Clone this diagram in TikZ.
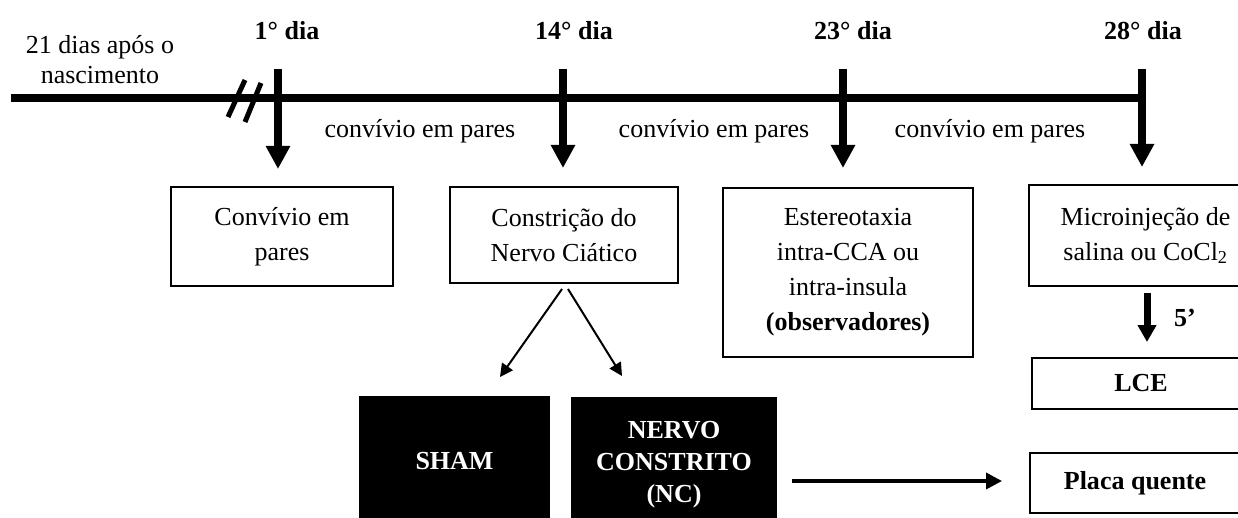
\documentclass[tikz,border=0pt]{standalone}
\usepackage{fontspec}
\setmainfont{Liberation Serif}
\usetikzlibrary{arrows.meta,calc}
\begin{document}
\begin{tikzpicture}[x=1pt,y=-1pt,
  box/.style={draw,line width=2pt,inner sep=0pt,align=center,font=\fontsize{26}{35}\selectfont},
  blk/.style={fill=black,draw=none,text=white,inner sep=0pt,align=center,font=\bfseries\fontsize{26}{32}\selectfont},
  lbl/.style={inner sep=0pt,anchor=base,font=\fontsize{26}{30}\selectfont},
  day/.style={inner sep=0pt,anchor=base,font=\bfseries\fontsize{26}{30}\selectfont},
  tl/.style={line width=8pt,-{Triangle[width=23pt,length=23pt]}},
  thin/.style={line width=2pt,-{Triangle[width=13pt,length=13pt]}},
  mid/.style={line width=3.5pt,-{Triangle[width=16pt,length=16pt]}},
  short/.style={line width=7pt,-{Triangle[width=18pt,length=17pt]}},
  brk/.style={line width=5pt}
]
\clip (0,0) rectangle (1238,518);
\fill[white] (0,0) rectangle (1238,518);

% boxes
\node[box,minimum width=222pt,minimum height=99pt] (conv) at (282,236.5) {Convívio em\\pares};
\node[box,minimum width=228pt,minimum height=96pt] (cons) at (564,235) {Constrição do\\Nervo Ciático};
\node[box,minimum width=250pt,minimum height=169pt] (este) at (848,272.5) {Estereotaxia\\intra-CCA ou\\intra-insula\\\textbf{(observadores)}};
\node[box,minimum width=233pt,minimum height=101pt] (micro) at (1145.5,235.5) {Microinjeção de\\salina ou CoCl\textsubscript{2}};
\node[box,minimum width=218pt,minimum height=51pt,font=\bfseries\fontsize{26}{35}\selectfont] (lce) at (1141,383.5) {LCE};
\node[box,minimum width=210pt,minimum height=60pt,font=\bfseries\fontsize{26}{35}\selectfont] (placa) at (1135,483) {Placa quente};
\node[blk,minimum width=191pt,minimum height=130pt] (sham) at (454.5,461) {SHAM};
\node[blk,minimum width=206pt,minimum height=136pt] (nc) at (674,465) {NERVO\\CONSTRITO\\(NC)};

% timeline
\coordinate (L) at (11,98);
\coordinate (R) at (1142,98);
\draw[line width=8pt] (L) -- (R);
\draw[brk] (228,117) -- (245,80);
\draw[brk] (245,122) -- (261,83);

\coordinate (t1) at (278,69);
\coordinate (t14) at (563,69);
\coordinate (t23) at (843,69);
\coordinate (t28) at (1142,69);
\draw[tl,shorten >=17pt] (t1) -- (t1 |- conv.north);
\draw[tl,shorten >=18pt] (t14) -- (t14 |- cons.north);
\draw[tl,shorten >=19pt] (t23) -- (t23 |- este.north);
\draw[tl,shorten >=17pt] (t28) -- (t28 |- micro.north);

% labels
\node[lbl,align=center,anchor=center] (nasc) at (100,60) {21 dias após o\\nascimento};
\node[day] (d1) at (287,40) {1° dia};
\node[day] (d14) at (574,40) {14° dia};
\node[day] (d23) at (853,40) {23° dia};
\node[day] (d28) at (1143,40) {28° dia};
\node[lbl] (p1) at (420,138) {convívio em pares};
\node[lbl] (p2) at (714,138) {convívio em pares};
\node[lbl] (p3) at (990,138) {convívio em pares};

% diagonal arrows
\coordinate (sl) at (562,289);
\coordinate (sr) at (568,289);
\draw[thin] (sl) -- (500,377);
\draw[thin] (sr) -- (622,376);

% 5' arrow
\coordinate (m5) at (1147,286);
\draw[short,shorten <=7pt,shorten >=15pt] (m5) -- (m5 |- lce.north);
\node[day] (five) at (1185,326) {5’};

% horizontal arrow
\draw[mid,shorten <=15pt,shorten >=27pt] (nc.east |- 0,481) -- (placa.west |- 0,481);
\end{tikzpicture}
\end{document}
